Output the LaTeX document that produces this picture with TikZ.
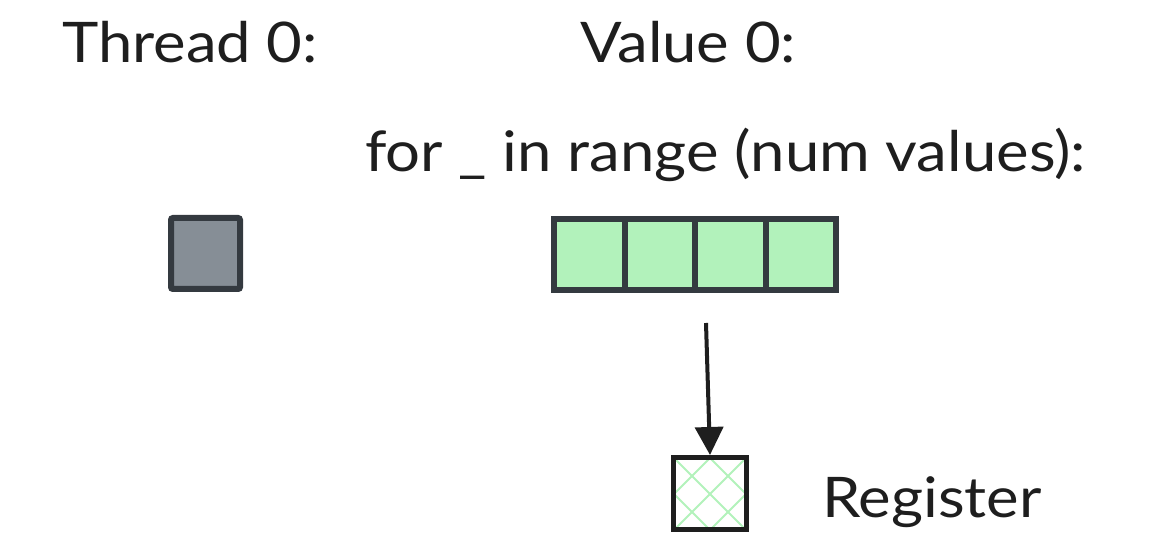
\documentclass[tikz,border=0pt]{standalone}
\usepackage{fontspec}
\setmainfont{Lato}[FakeStretch=1.1]
\usetikzlibrary{arrows.meta}
\definecolor{ink}{HTML}{1E1E1E}
\definecolor{slate}{HTML}{343A40}
\definecolor{greyfill}{HTML}{868E96}
\definecolor{mint}{HTML}{B2F2BB}
\tikzset{
  lbl/.style={anchor=base west, inner sep=0pt, text=ink, font=\fontsize{56}{60}\selectfont},
  cell/.style={draw=slate, line width=6pt, fill=mint, minimum width=70.5pt, minimum height=71pt, inner sep=0pt},
  threadbox/.style={draw=slate, line width=6pt, fill=greyfill, rounded corners=2pt, minimum width=69pt, minimum height=71pt, inner sep=0pt},
  regbox/.style={draw=ink, line width=5pt, minimum width=73pt, minimum height=72pt, inner sep=0pt},
  flow/.style={draw=ink, line width=4pt, -{Triangle[length=28pt,width=28pt]}}
}
\begin{document}
\begin{tikzpicture}[x=1pt,y=-1pt]
\useasboundingbox (0,0) rectangle (1152,534);
% headings
\node[lbl] (thread) at (62,63) {Thread 0:};
\node[lbl] (value) at (580,63) {Value 0:};
\node[lbl] (loop) at (365,172) {for \_ in range (num values):};
% thread register
\node[threadbox] (tsq) at (205.5,253.5) {};
% value cells
\node[cell] (c1) at (589.25,254.5) {};
\node[cell] (c2) at (659.75,254.5) {};
\node[cell] (c3) at (730.25,254.5) {};
\node[cell] (c4) at (800.75,254.5) {};
% register with cross hatching
\node[regbox] (reg) at (710,493.5) {};
\begin{scope}
  \clip (reg.south west) rectangle (reg.north east);
  \foreach \s in {-72,-36,...,144} {
    \draw[mint, line width=1.8pt] (673.5+\s,457.5) -- (673.5+\s+72,529.5);
    \draw[mint, line width=1.8pt] (746.5-\s,457.5) -- (746.5-\s-72,529.5);
  }
\end{scope}
\node[regbox] at (reg.center) {};
\node[lbl] (reglbl) at (822,518) {Register};
% load arrow
\coordinate (src) at (706,323);
\draw[flow] (src) -- (reg.north);
\end{tikzpicture}
\end{document}
